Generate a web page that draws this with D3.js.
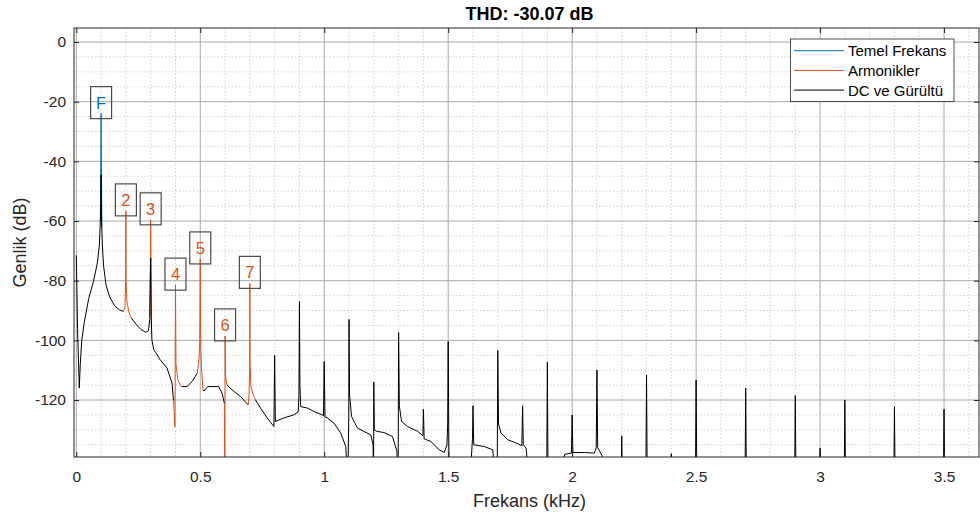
<!DOCTYPE html>
<html><head><meta charset="utf-8">
<script src="https://cdn.jsdelivr.net/npm/d3@7"></script>
<style>
body{margin:0;background:#fff;}
svg{display:block;font-family:"Liberation Sans",Arial,Helvetica,sans-serif;}
</style></head>
<body>
<svg id="chart" width="980" height="517"></svg>
<script>
// ---------------- data ----------------
const titleText = "THD: -30.07 dB";
const xLabel = "Frekans (kHz)";
const yLabel = "Genlik (dB)";
const xTicks = [0, 0.5, 1, 1.5, 2, 2.5, 3, 3.5];
const xTickLabels = ["0", "0.5", "1", "1.5", "2", "2.5", "3", "3.5"];
const yTicks = [0, -20, -40, -60, -80, -100, -120];
const yTickLabels = ["0", "-20", "-40", "-60", "-80", "-100", "-120"];
const legendNames = ["Temel Frekans", "Armonikler", "DC ve Gürültü"];

// fundamental (kHz, dB)
const fundamental = [[0.097, -60], [0.1, -24], [0.103, -62]];
// harmonics (kHz, dB)
const harm2 = [[0.190, -90.3], [0.196, -89], [0.199, -80], [0.2, -56.6], [0.201, -80], [0.204, -87], [0.212, -90.5], [0.222, -92.5]];
const harm3 = [[0.297, -92], [0.3, -59.6], [0.303, -96]];
const harm4 = [[0.392, -120], [0.398, -129], [0.4, -81.5], [0.402, -108], [0.41, -113.5], [0.425, -115.5]];
const harm5 = [[0.488, -111], [0.495, -106], [0.498, -100], [0.5, -72.7], [0.502, -102], [0.505, -109], [0.511, -116.6]];
const harm6 = [[0.597, -121], [0.599, -150], [0.6, -98.5], [0.602, -112], [0.608, -115]];
const harm7 = [[0.693, -121.6], [0.697, -118], [0.699, -110], [0.7, -80.9], [0.701, -108], [0.704, -115], [0.712, -118], [0.723, -120]];
const harmonics = [harm2, harm3, harm4, harm5, harm6, harm7];

// DC and noise (kHz, dB); NaN marks a gap
const noise = [
 [0.000,-71.5],[0.005,-96],[0.012,-116],[0.016,-108],[0.022,-100],[0.032,-94],[0.050,-86],[0.070,-80],
 [0.085,-74],[0.093,-68],[0.098,-58],[0.100,-44.5],[0.102,-60],[0.105,-68],[0.110,-75],[0.120,-81.5],
 [0.135,-85.5],[0.155,-88.5],[0.175,-89.8],[0.190,-90.3],[0.205,NaN],
 [0.222,-92.5],[0.240,-94.5],[0.260,-96.3],[0.280,-97.3],[0.291,-96.8],[0.296,-93],[0.298,-82],[0.300,-72.4],
 [0.302,-92],[0.305,-100],[0.312,-103],[0.338,-106.5],[0.366,-109.3],[0.386,-114.3],[0.392,-120],[0.41,NaN],
 [0.425,-115.5],[0.446,-115.5],[0.467,-113.8],[0.488,-111],[0.5,NaN],
 [0.511,-116.6],[0.515,-117],[0.530,-115.5],[0.574,-115.5],[0.588,-117.7],[0.597,-121],[0.6,NaN],
 [0.608,-115],[0.628,-116.6],[0.662,-118.8],[0.686,-121],[0.693,-121.6],[0.71,NaN],
 [0.723,-120],[0.743,-122.7],[0.770,-126],[0.797,-128.9],[0.800,-105],[0.803,-127.2],[0.837,-126],[0.877,-125],
 [0.895,-124],[0.898,-118],[0.900,-87],[0.902,-115],[0.905,-122.2],[0.932,-122.7],[0.958,-123.8],[0.997,-125.2],
 [1.000,-107.1],[1.003,-125.6],[1.012,-126],[1.039,-127.7],[1.066,-131],[1.087,-135.6],[1.095,-150],[1.099,-125],
 [1.100,-93],[1.102,-118],[1.110,-125.5],[1.134,-129.4],[1.160,-130.5],[1.188,-131.7],[1.197,-135],[1.199,-150],
 [1.200,-114],[1.202,-130],[1.212,-130.5],[1.241,-130.9],[1.275,-132.2],[1.293,-137],[1.298,-150],[1.300,-97.4],
 [1.303,-122],[1.312,-127.2],[1.336,-128.9],[1.377,-130.5],[1.398,-132],[1.400,-123.1],[1.403,-133],[1.430,-133.9],
 [1.464,-136.7],[1.484,-137.6],[1.495,-135],[1.498,-128],[1.500,-100.4],[1.503,-140],[1.507,-150],[1.585,-150],
 [1.595,-137],[1.598,-133],[1.600,-121.9],[1.603,-135],[1.646,-135.6],[1.680,-136.7],[1.692,-150],[1.698,-140],
 [1.700,-103.4],[1.703,-128],[1.713,-131.1],[1.740,-133.3],[1.774,-134.4],[1.797,-135.3],[1.800,-121.9],[1.803,-135],
 [1.814,-136.1],[1.830,-150],[1.897,-150],[1.900,-107.3],[1.903,-150],[1.943,-150],[1.970,-138.2],[1.997,-137.8],
 [2.000,-125],[2.003,-137.6],[2.050,-137.6],[2.090,-137.8],[2.097,-136],[2.100,-109.9],[2.103,-136],[2.120,-138.5],
 [2.145,-150],[2.197,-150],[2.200,-132],[2.203,-150],[2.297,-150],[2.300,-111.6],[2.303,-150],[2.397,-150],
 [2.400,-138],[2.403,-150],[2.497,-150],[2.500,-113.3],[2.503,-150],[2.697,-150],[2.700,-116],[2.703,-150],
 [2.897,-150],[2.900,-118.5],[2.903,-150],[2.997,-150],[3.000,-136.1],[3.003,-150],[3.097,-150],[3.100,-120],
 [3.103,-150],[3.297,-150],[3.300,-122.2],[3.303,-150],[3.497,-150],[3.500,-123.1],[3.503,-150],[3.650,-150]
];

// peak labels
const peakLabels = ["F", "2", "3", "4", "5", "6", "7"];
const peakKHz = [0.1, 0.2, 0.3, 0.4, 0.5, 0.6, 0.7];
const peakDb = [-24, -56.6, -59.6, -81.5, -72.7, -98.5, -80.9];

// ---------------- drawing ----------------
const BLUE = "#0072BD", ORANGE = "#D95319", AXIS = "#262626";
const L = 74, R = 979, T = 28, B = 457;
const svg = d3.select("#chart");
const x = d3.scaleLinear().domain([-0.0093, 3.641]).range([L, R]);
const y = d3.scaleLinear().domain([-139.1, 4.7]).range([B, T]);

svg.append("defs").append("clipPath").attr("id", "clip")
  .append("rect").attr("x", L).attr("y", T).attr("width", R - L).attr("height", B - T);

// grid
const g = svg.append("g");
const minorX = d3.range(1, 37).map(i => i / 10).filter(v => Math.abs(v * 2 - Math.round(v * 2)) > 1e-6);
const minorY = d3.range(-135, 5, 5).filter(v => v % 20 !== 0);
g.selectAll(".mx").data(minorX).join("line")
  .attr("x1", d => x(d)).attr("x2", d => x(d)).attr("y1", T).attr("y2", B)
  .attr("stroke", "#c8c8c8").attr("stroke-width", 0.8).attr("stroke-dasharray", "1.5,2");
g.selectAll(".my").data(minorY).join("line")
  .attr("x1", L).attr("x2", R).attr("y1", d => y(d)).attr("y2", d => y(d))
  .attr("stroke", "#c8c8c8").attr("stroke-width", 0.8).attr("stroke-dasharray", "1.5,2");
g.selectAll(".gx").data(xTicks).join("line")
  .attr("x1", d => x(d)).attr("x2", d => x(d)).attr("y1", T).attr("y2", B)
  .attr("stroke", "#a9a9a9").attr("stroke-width", 1);
g.selectAll(".gy").data(yTicks).join("line")
  .attr("x1", L).attr("x2", R).attr("y1", d => y(d)).attr("y2", d => y(d))
  .attr("stroke", "#a9a9a9").attr("stroke-width", 1);

// curves
const line = d3.line().defined(d => !isNaN(d[1])).x(d => x(d[0])).y(d => y(d[1]));
const plot = svg.append("g").attr("clip-path", "url(#clip)");
plot.append("path").datum(fundamental).attr("d", line).attr("fill", "none").attr("stroke", BLUE).attr("stroke-width", 1);
plot.selectAll(".h").data(harmonics).join("path").attr("d", line).attr("fill", "none").attr("stroke", ORANGE).attr("stroke-width", 1);
plot.append("path").datum(noise).attr("d", line).attr("fill", "none").attr("stroke", "#000").attr("stroke-width", 1).attr("stroke-linejoin", "round");

// peak labels
const lab = svg.append("g").selectAll("g").data(peakLabels).join("g")
  .attr("transform", (d, i) => `translate(${x(peakKHz[i])},${y(peakDb[i])})`);
lab.append("rect").attr("x", -10.5).attr("y", -27).attr("width", 21).attr("height", 32)
  .attr("fill", "none").attr("stroke", "#4a4a4a").attr("stroke-width", 1.2);
lab.append("text").attr("x", 0).attr("y", -5).attr("text-anchor", "middle")
  .attr("font-size", 16.5).attr("fill", (d, i) => i === 0 ? BLUE : ORANGE).text(d => d);

// axes
function styleAxis(sel) {
  sel.select(".domain").remove();
  sel.selectAll(".tick line").attr("stroke", AXIS);
  sel.selectAll(".tick text").attr("fill", AXIS).attr("font-size", 15.5).attr("font-family", "Liberation Sans, Arial, sans-serif");
}
svg.append("g").attr("transform", `translate(0,${B})`)
  .call(d3.axisBottom(x).tickValues(xTicks).tickFormat((d, i) => xTickLabels[i]).tickSizeInner(-5).tickSizeOuter(0).tickPadding(14))
  .call(styleAxis);
svg.append("g").attr("transform", `translate(${L},0)`)
  .call(d3.axisLeft(y).tickValues(yTicks).tickFormat((d, i) => yTickLabels[i]).tickSizeInner(-5).tickSizeOuter(0).tickPadding(8))
  .call(styleAxis);
svg.append("g").attr("transform", `translate(0,${T})`)
  .call(d3.axisTop(x).tickValues(xTicks).tickFormat("").tickSizeInner(-5).tickSizeOuter(0))
  .call(styleAxis);
svg.append("g").attr("transform", `translate(${R},0)`)
  .call(d3.axisRight(y).tickValues(yTicks).tickFormat("").tickSizeInner(-5).tickSizeOuter(0))
  .call(styleAxis);
svg.append("rect").attr("x", L).attr("y", T).attr("width", R - L).attr("height", B - T)
  .attr("fill", "none").attr("stroke", AXIS).attr("stroke-width", 1);

// labels
svg.append("text").attr("x", (L + R) / 2 + 3).attr("y", 20).attr("text-anchor", "middle")
  .attr("font-size", 18).attr("font-weight", "bold").attr("fill", "#000").text(titleText);
svg.append("text").attr("x", (L + R) / 2 + 3).attr("y", 507).attr("text-anchor", "middle")
  .attr("font-size", 18).attr("fill", AXIS).text(xLabel);
svg.append("text").attr("transform", `translate(26,${(T + B) / 2}) rotate(-90)`).attr("text-anchor", "middle")
  .attr("font-size", 18).attr("fill", AXIS).text(yLabel);

// legend
const leg = svg.append("g");
leg.append("rect").attr("x", 790.5).attr("y", 39).attr("width", 163.5).attr("height", 62.5)
  .attr("fill", "#fff").attr("stroke", AXIS).attr("stroke-width", 0.8);
const legColors = [BLUE, ORANGE, "#000"];
const li = leg.selectAll(".li").data(legendNames).join("g")
  .attr("transform", (d, i) => `translate(0,${50.7 + i * 19.7})`);
li.append("line").attr("x1", 794).attr("x2", 844).attr("y1", 0).attr("y2", 0)
  .attr("stroke", (d, i) => legColors[i]).attr("stroke-width", 1);
li.append("text").attr("x", 848).attr("y", 5.5).attr("font-size", 15).attr("fill", "#000").text(d => d);
</script>
</body></html>
